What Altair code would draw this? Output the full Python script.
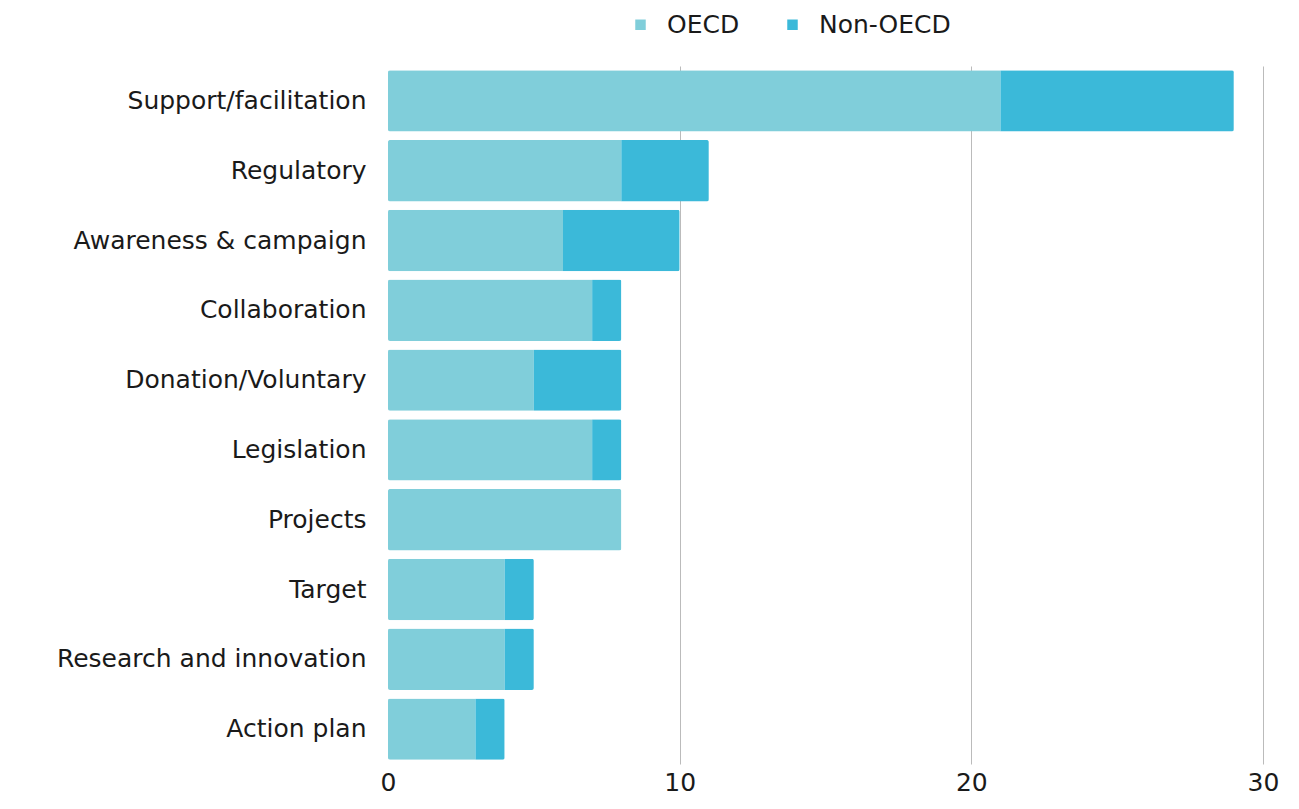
import altair as alt
import pandas as pd

categories = ["Support/facilitation", "Regulatory", "Awareness & campaign", "Collaboration",
              "Donation/Voluntary", "Legislation", "Projects", "Target",
              "Research and innovation", "Action plan"]
oecd = [21, 8, 6, 7, 5, 7, 8, 4, 4, 3]
non_oecd = [8, 3, 4, 1, 3, 1, 0, 1, 1, 1]
series = ["OECD", "Non-OECD"]
colors = ["#80CEDA", "#3BB9D9"]
x_ticks = [0, 10, 20, 30]

rows = []
for c, a, b in zip(categories, oecd, non_oecd):
    rows.append({"category": c, "group": "OECD", "value": a, "ord": 0})
    rows.append({"category": c, "group": "Non-OECD", "value": b, "ord": 1})
df = pd.DataFrame(rows)

FONT = "DejaVu Sans"

chart = alt.Chart(df).mark_bar(cornerRadius=2).encode(
    y=alt.Y("category:N", sort=categories, title=None,
            scale=alt.Scale(paddingInner=0.12, paddingOuter=0.06),
            axis=alt.Axis(domain=False, ticks=False, labelFontSize=25, labelFont=FONT,
                          labelColor="#1a1a1a", labelPadding=22, labelLimit=400)),
    x=alt.X("value:Q", stack="zero", title=None,
            scale=alt.Scale(domain=[0, 30], nice=False),
            axis=alt.Axis(values=x_ticks, domain=False, ticks=False, grid=True,
                          gridColor=alt.ExprRef("datum.value == 0 ? 'transparent' : '#bbbbbb'"),
                          gridWidth=1, labelFontSize=25, labelFont=FONT,
                          labelColor="#1a1a1a", labelPadding=6, labelFlush=False)),
    color=alt.Color("group:N", sort=series,
                    scale=alt.Scale(domain=series, range=colors),
                    legend=alt.Legend(title=None, orient="none", direction="horizontal",
                                      legendX=240, legendY=-54, symbolType="square",
                                      symbolSize=110, labelFontSize=25, labelFont=FONT,
                                      labelColor="#1a1a1a", columnPadding=40,
                                      symbolStrokeWidth=0, labelOffset=14)),
    order=alt.Order("ord:Q"),
).properties(
    width=875, height=698,
    autosize=alt.AutoSizeParams(type="none"),
    padding={"left": 380, "top": 58, "right": 20, "bottom": 40},
).configure(background="white").configure_view(stroke=None)

chart.save("out.html", embed_options={"renderer": "svg", "actions": False})
